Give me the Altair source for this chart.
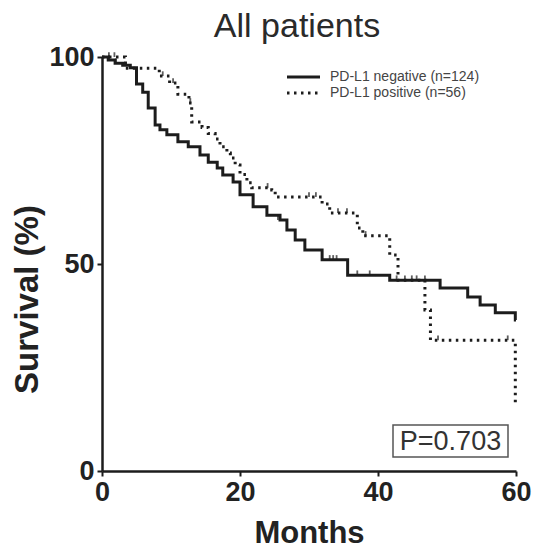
import altair as alt
import pandas as pd

# ---- data ----
groups = ["PD-L1 negative (n=124)", "PD-L1 positive (n=56)"]

neg_months = [0, 0.9, 1.9, 3.0, 4.1, 5.0, 5.9, 6.7, 7.7, 8.4, 9.4, 11.0, 12.5, 14.2, 15.4,
              16.7, 17.5, 19.0, 20.0, 21.9, 23.9, 25.8, 26.8, 28.0, 29.4, 31.9, 35.6,
              41.7, 49.0, 53.0, 54.8, 57.0, 59.9, 60.0]
neg_surv = [100, 99.3, 98.5, 98.0, 97.4, 93.5, 91.5, 87.7, 83.6, 82.4, 81.2, 79.5, 78.3, 76.3, 74.6,
            73.2, 71.5, 69.8, 66.7, 63.8, 61.8, 60.6, 58.2, 55.8, 53.4, 51.0, 47.3,
            46.1, 44.2, 42.0, 40.1, 38.2, 36.5, 36.5]

pos_months = [0, 3.4, 8.3, 9.8, 11.0, 12.6, 13.0, 14.5, 15.4, 16.4, 17.1, 18.1, 18.6, 19.3,
              20.0, 21.0, 21.7, 24.6, 25.1, 31.9, 33.0, 37.0, 37.8, 41.7, 42.9, 46.8, 47.6,
              59.9, 60.0]
pos_surv = [100, 97.3, 95.4, 93.7, 91.0, 88.9, 84.3, 83.0, 81.5, 80.2, 78.3, 76.8, 75.6, 73.9,
            71.6, 69.6, 68.4, 67.9, 66.2, 64.5, 62.3, 58.7, 56.8, 52.2, 46.1, 38.9, 31.6,
            16.4, 16.4]

neg_cens_months = [1.0, 2.0, 25.5, 33.0, 33.5, 34.0, 37.0, 38.8, 42.7, 43.9, 44.9, 45.6, 46.8]
neg_cens_surv = [99.3, 98.5, 60.6, 51.0, 51.0, 51.0, 47.3, 47.3, 46.1, 46.1, 46.1, 46.1, 46.1]

pos_cens_months = [1.0, 1.8, 8.8, 10.3, 12.8, 24.0, 30.0, 31.0, 34.2, 35.5, 38.2, 48.7, 58.8]
pos_cens_surv = [100, 100, 95.4, 93.7, 88.9, 68.4, 66.2, 66.2, 62.3, 62.3, 56.8, 31.6, 31.6]

x_ticks = [0, 20, 40, 60]
y_ticks = [0, 50, 100]
p_text = "P=0.703"

curves = pd.concat([
    pd.DataFrame({"Months": neg_months, "Survival": neg_surv, "group": groups[0]}),
    pd.DataFrame({"Months": pos_months, "Survival": pos_surv, "group": groups[1]}),
])
cens = pd.concat([
    pd.DataFrame({"Months": neg_cens_months, "Survival": neg_cens_surv, "group": groups[0]}),
    pd.DataFrame({"Months": pos_cens_months, "Survival": pos_cens_surv, "group": groups[1]}),
])

FONT = "Liberation Sans"
INK = "#1c1c1c"
DASHES = [[1, 0], [2.5, 4.5]]

x_enc = alt.X("Months:Q", scale=alt.Scale(domain=[0, 60], nice=False, zero=False),
              axis=alt.Axis(values=x_ticks, title="Months", labelFlush=False))
y_enc = alt.Y("Survival:Q", scale=alt.Scale(domain=[0, 100], nice=False),
              axis=alt.Axis(values=y_ticks, title="Survival (%)", titleY=242,
                            titleFontSize=33, labelFlush=False))

lines = alt.Chart(curves).mark_line(interpolate="step-after", strokeWidth=3, color=INK).encode(
    x=x_enc,
    y=y_enc,
    strokeDash=alt.StrokeDash("group:N", scale=alt.Scale(domain=groups, range=DASHES),
                              legend=None),
)

ticks = alt.Chart(cens).mark_point(shape="M0,0L0,-1", size=90, filled=False,
                                   strokeWidth=1.8, color=INK).encode(
    x="Months:Q", y="Survival:Q"
)

# legend drawn by hand (two rows, tight spacing as in the reference)
one = pd.DataFrame({"a": [0]})
legend_layers = []
for i, (g, d) in enumerate(zip(groups, DASHES)):
    yy = 20 + 16 * i
    legend_layers.append(
        alt.Chart(one).mark_rule(strokeWidth=3, color=INK, strokeDash=d).encode(
            x=alt.value(185), x2=alt.value(218), y=alt.value(yy)
        )
    )
    legend_layers.append(
        alt.Chart(one).mark_text(text=g, font=FONT, fontSize=14, color="#444",
                                 align="left", baseline="middle").encode(
            x=alt.value(228), y=alt.value(yy)
        )
    )

box = alt.Chart(one).mark_rect(fill="white", stroke="#555", strokeWidth=1.5).encode(
    x=alt.value(291), x2=alt.value(406), y=alt.value(368), y2=alt.value(400)
)
ptxt = alt.Chart(one).mark_text(text=p_text, font=FONT, fontSize=27, color="#333").encode(
    x=alt.value(348.5), y=alt.value(385)
)

chart = alt.layer(lines, ticks, *legend_layers, box, ptxt).properties(
    width=414, height=414,
    title=alt.TitleParams("All patients", font=FONT, fontSize=34, fontWeight="normal",
                          color="#2a2a2a", dx=-12, offset=-1),
    autosize=alt.AutoSizeParams(type="none"),
    padding={"left": 94, "top": 49, "right": 17, "bottom": 80},
).configure_view(stroke=None).configure_axis(
    grid=False, domainColor=INK, domainWidth=2.5, tickColor=INK, tickWidth=2, tickSize=5,
    labelFont=FONT, labelFontSize=27, labelFontWeight="bold", labelColor="#222",
    titleFont=FONT, titleFontSize=31, titleFontWeight="bold", titleColor="#222",
    labelPadding=3,
).configure_axisX(titlePadding=13).configure_axisY(titlePadding=4)

chart.save("out.html", embed_options={"renderer": "svg", "actions": False})
